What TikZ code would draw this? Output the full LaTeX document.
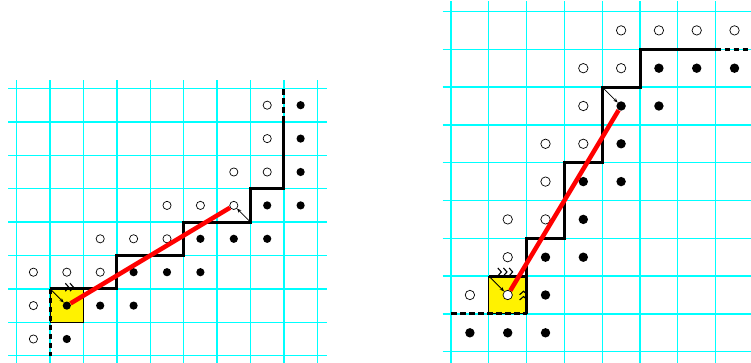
\documentclass[tikz,border=0pt]{standalone}
\usetikzlibrary{arrows.meta}
\definecolor{gridcyan}{RGB}{0,255,255}
\begin{document}
\begin{tikzpicture}[x=1bp, y=1bp, >=Stealth,
  grd/.style={gridcyan, line width=1.3bp, step=1},
  fund/.style={fill=yellow, draw=black, line width=0.9bp},
  stair/.style={line width=3bp, line join=miter},
  seam/.style={stair, dash pattern=on 5.5bp off 3.5bp},
  redline/.style={red, line width=4.5bp},
  hint/.style={-{Stealth[length=4.5bp, width=3.5bp]}, line width=0.8bp},
  opn/.style={circle, draw, fill=white, line width=0.7bp, inner sep=0pt},
  ful/.style={circle, fill=black, inner sep=0pt},
  chev/.pic={\draw[line width=1.1bp] (-3.5bp,4bp) -- (0,0) -- (-3.5bp,-4bp);}]
\useasboundingbox (0,0) rectangle (751,362);
\clip (0,0) rectangle (751,362);
% ---- left lattice
\begin{scope}[xshift=16.7bp, yshift=6.3bp, x=33.4bp, y=33.4bp, every node/.append style={minimum size=8.2bp}]
\draw[grd] (-0.25,-0.25) grid (9.28,8.25);
\draw[fund] (1,1) rectangle (2,2);
\draw[stair] (1,2) -- (3,2) -- (3,3) -- (5,3) -- (5,4) -- (7,4) -- (7,5) -- (8,5) -- (8,7);
\draw[seam] (8,7) -- (8,8); \draw[seam] (1,2) -- (1,0);
\node[opn] (l77) at (7.5,7.5) {}; \node[ful] (l87) at (8.5,7.5) {};
\node[opn] (l76) at (7.5,6.5) {}; \node[ful] (l86) at (8.5,6.5) {};
\node[opn] (l65) at (6.5,5.5) {}; \node[opn] (l75) at (7.5,5.5) {}; \node[ful] (l85) at (8.5,5.5) {};
\node[opn] (l44) at (4.5,4.5) {}; \node[opn] (l54) at (5.5,4.5) {}; \node[opn] (l64) at (6.5,4.5) {};
\node[ful] (l74) at (7.5,4.5) {}; \node[ful] (l84) at (8.5,4.5) {};
\node[opn] (l23) at (2.5,3.5) {}; \node[opn] (l33) at (3.5,3.5) {}; \node[opn] (l43) at (4.5,3.5) {};
\node[ful] (l53) at (5.5,3.5) {}; \node[ful] (l63) at (6.5,3.5) {}; \node[ful] (l73) at (7.5,3.5) {};
\node[opn] (l02) at (0.5,2.5) {}; \node[opn] (l12) at (1.5,2.5) {}; \node[opn] (l22) at (2.5,2.5) {};
\node[ful] (l32) at (3.5,2.5) {}; \node[ful] (l42) at (4.5,2.5) {}; \node[ful] (l52) at (5.5,2.5) {};
\node[opn] (l01) at (0.5,1.5) {}; \node[ful] (l11) at (1.5,1.5) {}; \node[ful] (l21) at (2.5,1.5) {}; \node[ful] (l31) at (3.5,1.5) {};
\node[opn] (l00) at (0.5,0.5) {}; \node[ful] (l10) at (1.5,0.5) {};
\draw[redline] (l11) -- (l64);
\coordinate (lc1) at (1,2); \coordinate (lc2) at (7,4);
\draw[hint] (lc1) -- (l11); \draw[hint] (lc2) -- (l64);
\pic at (1.56,2.05) {chev}; \pic at (1.7,2.05) {chev};
\end{scope}
% ---- right lattice
\begin{scope}[xshift=451bp, yshift=10.3bp, x=37.8bp, y=37.8bp, every node/.append style={minimum size=9.4bp}]
\draw[grd] (-0.22,-0.3) grid (8.25,9.27);
\draw[fund] (1,1) rectangle (2,2);
\draw[stair] (2,1) -- (2,2) -- (1,2);
\draw[stair] (2,2) -- (2,3) -- (3,3) -- (3,5) -- (4,5) -- (4,7) -- (5,7) -- (5,8) -- (7,8);
\draw[seam] (7,8) -- (8,8); \draw[seam] (0,1) -- (2,1);
\node[opn] (r48) at (4.5,8.5) {}; \node[opn] (r58) at (5.5,8.5) {}; \node[opn] (r68) at (6.5,8.5) {}; \node[opn] (r78) at (7.5,8.5) {};
\node[opn] (r37) at (3.5,7.5) {}; \node[opn] (r47) at (4.5,7.5) {};
\node[ful] (r57) at (5.5,7.5) {}; \node[ful] (r67) at (6.5,7.5) {}; \node[ful] (r77) at (7.5,7.5) {};
\node[opn] (r36) at (3.5,6.5) {}; \node[ful] (r46) at (4.5,6.5) {}; \node[ful] (r56) at (5.5,6.5) {};
\node[opn] (r25) at (2.5,5.5) {}; \node[opn] (r35) at (3.5,5.5) {}; \node[ful] (r45) at (4.5,5.5) {};
\node[opn] (r24) at (2.5,4.5) {}; \node[ful] (r34) at (3.5,4.5) {}; \node[ful] (r44) at (4.5,4.5) {};
\node[opn] (r13) at (1.5,3.5) {}; \node[opn] (r23) at (2.5,3.5) {}; \node[ful] (r33) at (3.5,3.5) {};
\node[opn] (r12) at (1.5,2.5) {}; \node[ful] (r22) at (2.5,2.5) {}; \node[ful] (r32) at (3.5,2.5) {};
\node[opn] (r01) at (0.5,1.5) {}; \node[opn] (r11) at (1.5,1.5) {}; \node[ful] (r21) at (2.5,1.5) {};
\node[ful] (r00) at (0.5,0.5) {}; \node[ful] (r10) at (1.5,0.5) {}; \node[ful] (r20) at (2.5,0.5) {};
\draw[redline] (r11) -- (r46);
\coordinate (rc1) at (1,2); \coordinate (rc2) at (4,7);
\draw[hint] (rc1) -- (r11); \draw[hint] (rc2) -- (r46);
\pic at (1.33,2.11) {chev}; \pic at (1.48,2.11) {chev}; \pic at (1.63,2.11) {chev};
\pic[rotate=90] at (1.92,1.6) {chev}; \pic[rotate=90] at (1.92,1.46) {chev};
\end{scope}
\end{tikzpicture}
\end{document}
